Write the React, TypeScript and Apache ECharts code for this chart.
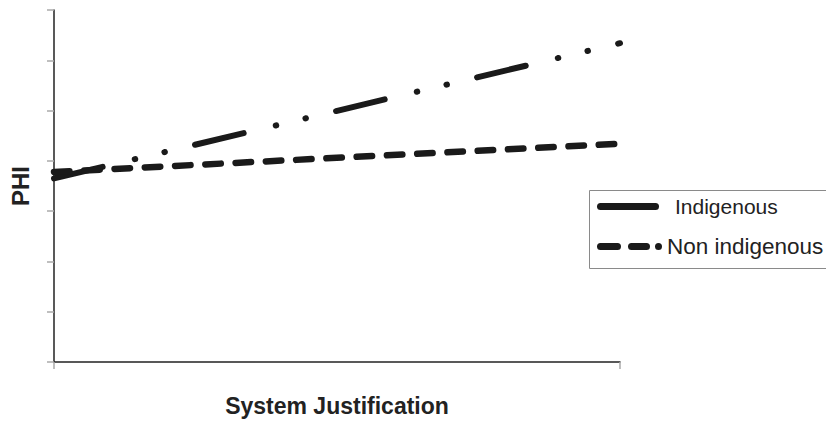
import React, { useEffect, useRef } from "react";
import * as echarts from "echarts";

const xValues = [0, 1];
const indigenous = [3.65, 6.34];
const nonIndigenous = [3.78, 4.34];
const seriesNames = ["Indigenous", "Non indigenous"];
const xAxisTitle = "System Justification";
const yAxisTitle = "PHI";

const FONT = "'Liberation Sans', Arial, sans-serif";
const INK = "#1a1a1a";

export default function App() {
  const ref = useRef<HTMLDivElement>(null);
  useEffect(() => {
    document.body.style.margin = "0";
    const chart = echarts.init(ref.current!, null, { renderer: "svg" });
    const capsule = (x0: number, x1: number) =>
      `M${x0 + 3.5},0 L${x1 - 3.5},0 A3.5,3.5 0 0 1 ${x1 - 3.5},7 L${x0 + 3.5},7 A3.5,3.5 0 0 1 ${x0 + 3.5},0 Z `;
    const iconSolid = "path://" + capsule(0, 62);
    const iconDashed =
      "path://" + capsule(0, 24) + capsule(31, 53) + "M58,3.5 A3.5,3.5 0 1 1 65,3.5 A3.5,3.5 0 1 1 58,3.5 Z";
    chart.setOption({
      animation: false,
      backgroundColor: "#ffffff",
      grid: { left: 53, right: 206, top: 10, bottom: 59, containLabel: false },
      xAxis: {
        type: "value",
        min: 0,
        max: 1,
        interval: 1,
        name: xAxisTitle,
        nameLocation: "middle",
        nameGap: 32,
        nameTextStyle: { fontSize: 23, fontWeight: "bold", color: "#222", fontFamily: FONT },
        axisLine: { show: true, lineStyle: { color: "#222", width: 1.5 } },
        axisTick: { show: true, length: 7, lineStyle: { color: "#aaa", width: 1.5 } },
        axisLabel: { show: false },
        splitLine: { show: false },
      },
      yAxis: {
        type: "value",
        min: 0,
        max: 7,
        interval: 1,
        name: yAxisTitle,
        nameLocation: "middle",
        nameGap: 22,
        nameTextStyle: { fontSize: 24, fontWeight: "bold", color: "#222", fontFamily: FONT },
        axisLine: { show: true, lineStyle: { color: "#222", width: 1.5 } },
        axisTick: { show: true, length: 7, lineStyle: { color: "#aaa", width: 1.5 } },
        axisLabel: { show: false },
        splitLine: { show: false },
      },
      legend: [
        {
          data: [{ name: seriesNames[0], icon: iconSolid }],
          left: 597,
          top: 196,
          padding: 0,
          itemWidth: 62,
          itemHeight: 7,
          textStyle: { fontSize: 21, color: "#222", fontFamily: FONT, padding: [0, 0, 0, 11] },
          selectedMode: false,
        },
        {
          data: [{ name: seriesNames[1], icon: iconDashed }],
          left: 597,
          top: 235,
          padding: 0,
          itemWidth: 65,
          itemHeight: 7,
          textStyle: { fontSize: 22.5, color: "#222", fontFamily: FONT },
          selectedMode: false,
        },
      ],
      graphic: [
        {
          type: "rect",
          left: 587,
          top: 188,
          shape: { width: 245, height: 78 },
          style: { fill: "none", stroke: "#8a8a8a", lineWidth: 1 },
          silent: true,
        },
      ],
      series: [
        {
          name: seriesNames[0],
          type: "line",
          data: xValues.map((x, i) => [x, indigenous[i]]),
          symbol: "none",
          color: INK,
          lineStyle: { color: INK, width: 6, type: [50, 33, 0.5, 30, 0.5, 31], cap: "round" },
        },
        {
          name: seriesNames[1],
          type: "line",
          data: xValues.map((x, i) => [x, nonIndigenous[i]]),
          symbol: "none",
          color: INK,
          lineStyle: { color: INK, width: 6.5, type: [15.5, 14.8], cap: "round" },
        },
      ],
    });
    return () => chart.dispose();
  }, []);
  return <div ref={ref} style={{ width: 826, height: 422 }} />;
}
